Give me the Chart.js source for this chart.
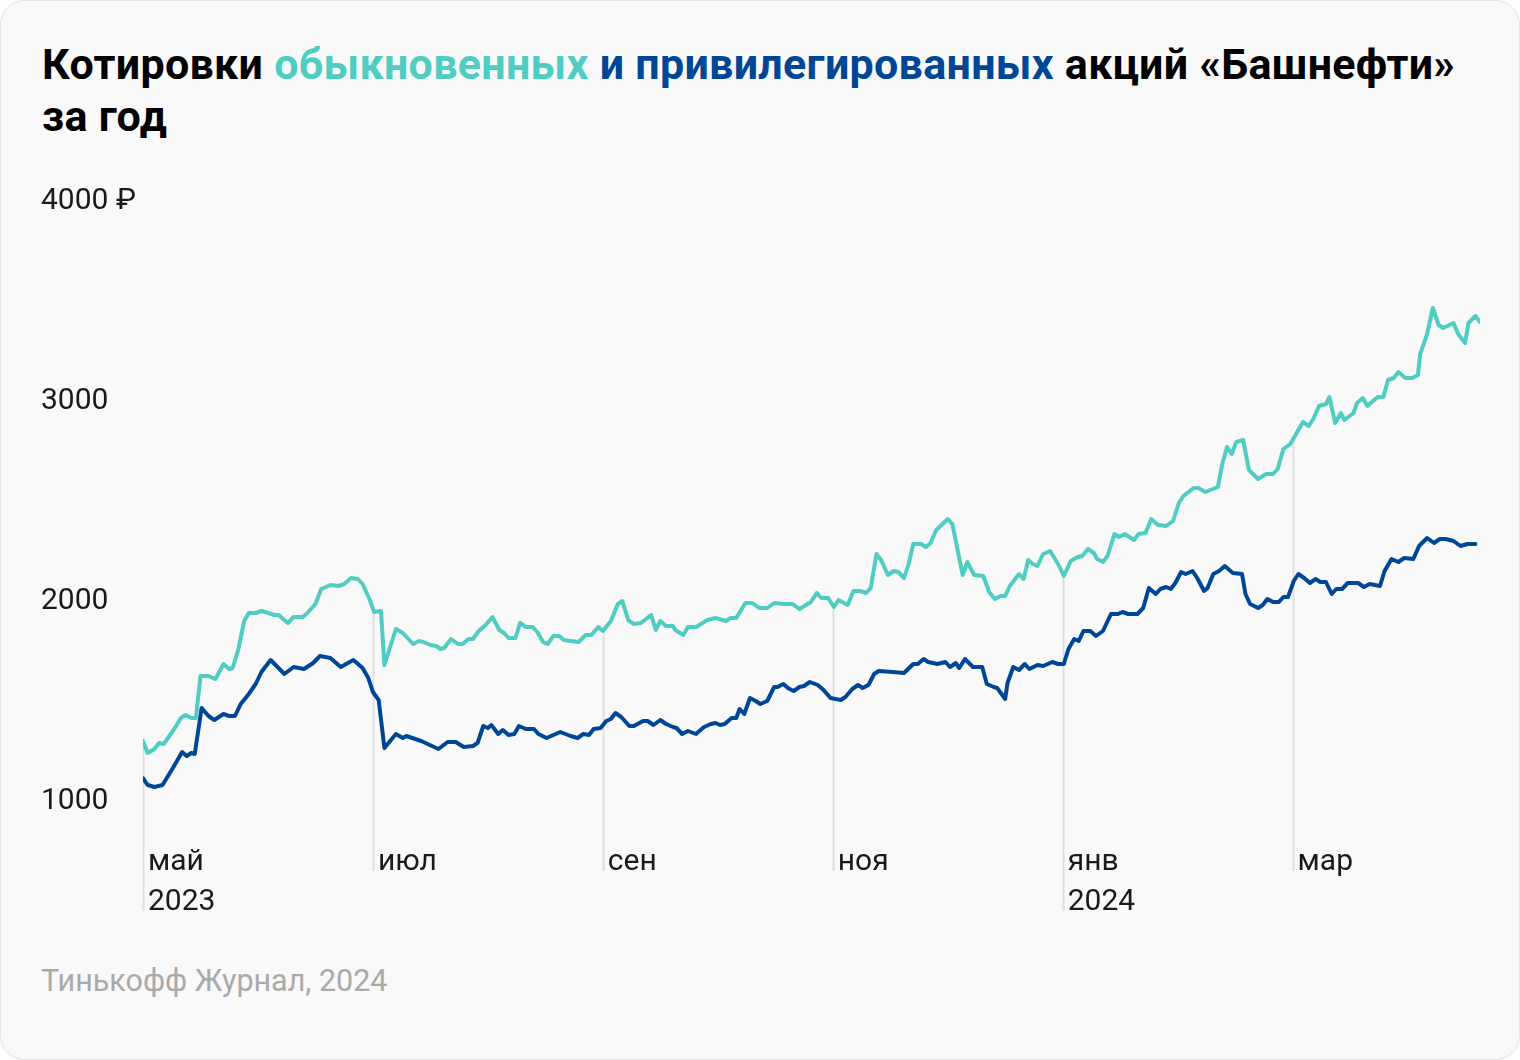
<!DOCTYPE html>
<html lang="ru">
<head>
<meta charset="utf-8">
<script src="https://cdn.jsdelivr.net/npm/chart.js@4.4.1/dist/chart.umd.min.js"></script>
<style>
  html, body { margin: 0; padding: 0; background: #ffffff; }
  .card {
    position: absolute; left: 0; top: 0;
    width: 1518px; height: 1058px;
    background: #f9f9f9;
    border: 1px solid #e4e4e4;
    border-radius: 24px;
    overflow: hidden;
    font-family: Roboto, "Noto Sans", sans-serif;
  }
  .title {
    position: absolute; left: 41px; top: 37px; width: 1470px;
    font-weight: 700; font-size: 43px; line-height: 52px;
    color: #000; letter-spacing: 0.3px; white-space: nowrap;
  }
  .title .common { color: #50cdc3; }
  .title .pref { color: #004696; }
  .chart-wrap { position: absolute; left: 0; top: 170px; width: 1520px; height: 760px; }
  .footer {
    position: absolute; left: 40px; top: 960px;
    font-size: 30.5px; line-height: 40px; color: #aaaaaa;
  }
</style>
</head>
<body>
<div class="card">
  <div class="title">Котировки <span class="common">обыкновенных</span> <span class="pref">и привилегированных</span> акций «Башнефти»<br>за год</div>
  <div class="chart-wrap"><canvas id="chart" width="1520" height="760"></canvas></div>
  <div class="footer">Тинькофф Журнал, 2024</div>
</div>
<script>
// Время в месяцах от 1 мая 2023 (0 = май, 2 = июль, ...)
const commonT = [
  0.00, 0.04, 0.10, 0.14, 0.18, 0.26, 0.33, 0.37, 0.42, 0.46, 0.50, 0.57, 0.63, 0.70, 0.75, 0.78,
  0.83, 0.88, 0.92, 0.98, 1.03, 1.09, 1.14, 1.18, 1.26, 1.31, 1.39, 1.43, 1.50, 1.55, 1.63, 1.70,
  1.75, 1.81, 1.87, 1.91, 1.97, 2.01, 2.07, 2.10, 2.20, 2.26, 2.35, 2.40, 2.44, 2.50, 2.55, 2.59,
  2.62, 2.68, 2.74, 2.78, 2.83, 2.87, 2.92, 2.98, 3.04, 3.10, 3.14, 3.18, 3.24, 3.28, 3.33, 3.39,
  3.43, 3.48, 3.52, 3.57, 3.62, 3.66, 3.72, 3.79, 3.85, 3.90, 3.96, 4.00, 4.07, 4.13, 4.17, 4.22,
  4.27, 4.33, 4.42, 4.46, 4.50, 4.55, 4.61, 4.63, 4.70, 4.74, 4.81, 4.91, 4.98, 5.07, 5.11, 5.16,
  5.24, 5.30, 5.36, 5.43, 5.49, 5.57, 5.65, 5.71, 5.81, 5.86, 5.90, 5.96, 6.01, 6.05, 6.13, 6.18,
  6.24, 6.29, 6.33, 6.38, 6.42, 6.48, 6.53, 6.57, 6.62, 6.66, 6.70, 6.77, 6.81, 6.85, 6.90, 7.00,
  7.04, 7.13, 7.17, 7.23, 7.31, 7.36, 7.41, 7.46, 7.50, 7.54, 7.62, 7.66, 7.70, 7.74, 7.78, 7.83,
  7.89, 7.96, 8.01, 8.07, 8.13, 8.17, 8.22, 8.27, 8.30, 8.35, 8.39, 8.45, 8.49, 8.54, 8.62, 8.66,
  8.72, 8.77, 8.83, 8.90, 8.96, 9.01, 9.05, 9.14, 9.18, 9.24, 9.35, 9.39, 9.43, 9.47, 9.51, 9.57,
  9.62, 9.70, 9.77, 9.83, 9.87, 9.92, 9.98, 10.03, 10.09, 10.14, 10.18, 10.23, 10.29, 10.32, 10.37, 10.42,
  10.45, 10.53, 10.56, 10.61, 10.65, 10.74, 10.79, 10.83, 10.88, 10.92, 10.98, 11.04, 11.09, 11.11, 11.17, 11.22,
  11.27, 11.31, 11.40, 11.44, 11.50, 11.53, 11.59, 11.63
];
const commonPrice = [
  1300, 1240, 1260, 1290, 1285, 1350, 1415, 1430, 1415, 1415, 1625, 1625, 1610, 1685, 1660, 1665,
  1760, 1900, 1940, 1940, 1950, 1940, 1930, 1930, 1890, 1920, 1920, 1940, 1985, 2060, 2080, 2075,
  2085, 2115, 2110, 2085, 2010, 1945, 1950, 1680, 1860, 1840, 1785, 1800, 1795, 1780, 1775, 1760,
  1765, 1810, 1785, 1785, 1810, 1810, 1850, 1880, 1920, 1855, 1840, 1815, 1815, 1890, 1870, 1870,
  1845, 1795, 1785, 1825, 1825, 1805, 1800, 1795, 1830, 1830, 1870, 1850, 1900, 1985, 2000, 1905,
  1885, 1890, 1930, 1855, 1900, 1875, 1875, 1855, 1830, 1870, 1870, 1905, 1915, 1900, 1915, 1915,
  1990, 1990, 1965, 1965, 1990, 1985, 1985, 1960, 1995, 2040, 2015, 2015, 1970, 2005, 1980, 2050,
  2050, 2040, 2065, 2235, 2205, 2130, 2150, 2145, 2115, 2185, 2285, 2285, 2270, 2290, 2355, 2410,
  2385, 2130, 2195, 2130, 2125, 2045, 2010, 2025, 2025, 2075, 2135, 2110, 2205, 2185, 2175, 2235,
  2250, 2185, 2125, 2200, 2220, 2225, 2260, 2240, 2210, 2195, 2225, 2335, 2320, 2335, 2305, 2335,
  2340, 2410, 2380, 2375, 2400, 2490, 2525, 2565, 2565, 2545, 2570, 2690, 2770, 2735, 2795, 2805,
  2655, 2610, 2635, 2635, 2660, 2760, 2785, 2835, 2895, 2875, 2910, 2975, 2985, 3020, 2890, 2940,
  2905, 2940, 2990, 3015, 2975, 3020, 3020, 3105, 3115, 3145, 3115, 3115, 3130, 3235, 3335, 3465,
  3380, 3365, 3390, 3335, 3290, 3390, 3425, 3395
];

const prefT = [
  0.00, 0.04, 0.10, 0.17, 0.26, 0.34, 0.38, 0.42, 0.45, 0.51, 0.57, 0.62, 0.70, 0.75, 0.80, 0.85,
  0.92, 0.98, 1.03, 1.11, 1.17, 1.23, 1.31, 1.40, 1.48, 1.54, 1.63, 1.72, 1.83, 1.91, 1.96, 2.00,
  2.05, 2.10, 2.20, 2.26, 2.29, 2.42, 2.57, 2.65, 2.72, 2.79, 2.87, 2.91, 2.96, 3.00, 3.03, 3.09,
  3.13, 3.18, 3.23, 3.27, 3.33, 3.40, 3.44, 3.51, 3.57, 3.63, 3.72, 3.78, 3.83, 3.88, 3.92, 3.98,
  4.03, 4.07, 4.11, 4.16, 4.23, 4.27, 4.35, 4.39, 4.44, 4.50, 4.55, 4.61, 4.64, 4.69, 4.74, 4.81,
  4.88, 4.94, 4.98, 5.02, 5.06, 5.12, 5.16, 5.19, 5.23, 5.28, 5.33, 5.37, 5.43, 5.49, 5.52, 5.57,
  5.61, 5.66, 5.71, 5.75, 5.80, 5.87, 5.92, 5.98, 6.07, 6.11, 6.17, 6.22, 6.26, 6.31, 6.36, 6.40,
  6.52, 6.62, 6.70, 6.74, 6.79, 6.83, 6.91, 6.98, 7.02, 7.07, 7.10, 7.15, 7.22, 7.30, 7.34, 7.40,
  7.43, 7.50, 7.52, 7.57, 7.62, 7.67, 7.71, 7.78, 7.83, 7.91, 7.96, 8.01, 8.05, 8.10, 8.14, 8.18,
  8.24, 8.29, 8.35, 8.42, 8.48, 8.52, 8.57, 8.65, 8.70, 8.75, 8.81, 8.85, 8.90, 8.94, 8.98, 9.03,
  9.07, 9.13, 9.17, 9.23, 9.26, 9.31, 9.36, 9.41, 9.48, 9.56, 9.59, 9.63, 9.70, 9.74, 9.78, 9.83,
  9.88, 9.92, 9.96, 10.01, 10.05, 10.10, 10.15, 10.20, 10.24, 10.29, 10.34, 10.38, 10.43, 10.48, 10.57, 10.62,
  10.67, 10.76, 10.80, 10.86, 10.92, 10.97, 11.05, 11.10, 11.17, 11.23, 11.28, 11.33, 11.40, 11.46, 11.52, 11.59
];
const prefPrice = [
  1115, 1080, 1070, 1080, 1165, 1245, 1225, 1240, 1235, 1465, 1425, 1405, 1435, 1425, 1425, 1485,
  1535, 1585, 1645, 1705, 1670, 1635, 1670, 1660, 1690, 1725, 1715, 1670, 1705, 1665, 1615, 1545,
  1505, 1265, 1335, 1315, 1325, 1300, 1260, 1295, 1295, 1270, 1275, 1290, 1375, 1365, 1380, 1335,
  1355, 1330, 1335, 1375, 1360, 1360, 1335, 1315, 1330, 1345, 1325, 1315, 1335, 1330, 1360, 1365,
  1400, 1410, 1440, 1420, 1375, 1375, 1400, 1400, 1380, 1405, 1385, 1370, 1365, 1335, 1350, 1335,
  1370, 1385, 1390, 1380, 1385, 1415, 1415, 1460, 1435, 1515, 1500, 1485, 1500, 1570, 1570, 1585,
  1565, 1550, 1570, 1575, 1595, 1580, 1555, 1515, 1505, 1520, 1560, 1580, 1565, 1580, 1635, 1650,
  1645, 1640, 1685, 1685, 1710, 1695, 1685, 1695, 1670, 1690, 1665, 1710, 1670, 1670, 1585, 1570,
  1565, 1510, 1590, 1670, 1655, 1685, 1660, 1680, 1675, 1695, 1685, 1685, 1760, 1810, 1800, 1850,
  1850, 1825, 1850, 1935, 1935, 1945, 1935, 1935, 1965, 2065, 2035, 2060, 2070, 2060, 2090, 2145,
  2135, 2150, 2115, 2050, 2065, 2135, 2150, 2175, 2140, 2135, 2035, 1985, 1965, 1980, 2010, 1995,
  1995, 2020, 2020, 2100, 2135, 2115, 2090, 2110, 2095, 2095, 2035, 2060, 2060, 2090, 2090, 2070,
  2085, 2075, 2150, 2210, 2195, 2215, 2210, 2275, 2315, 2290, 2310, 2310, 2300, 2275, 2285, 2285
];

const monthTicks  = [0, 2, 4, 6, 8, 10];
const monthLabels = [["май", "2023"], "июл", "сен", "ноя", ["янв", "2024"], "мар"];
const priceTicks  = [1000, 2000, 3000, 4000];

const COMMON_COLOR = "#50cdc3";
const PREF_COLOR   = "#004696";

// Вертикальные линии месяцев: от линии обыкновенных акций вниз до подписи
const monthLinesPlugin = {
  id: "monthLines",
  beforeDatasetsDraw(chart) {
    const { ctx, chartArea, scales } = chart;
    const pts = chart.getDatasetMeta(0).data;
    ctx.save();
    ctx.strokeStyle = "#dedede";
    ctx.lineWidth = 2;
    monthTicks.forEach((m, i) => {
      const x = Math.round(scales.x.getPixelForValue(m)) + 0.5;
      let top = pts[0].y;
      for (let k = 1; k < pts.length; k++) {
        if (pts[k].x >= x) {
          const a = pts[k - 1], b = pts[k];
          const f = (x - a.x) / ((b.x - a.x) || 1);
          top = a.y + (b.y - a.y) * Math.max(0, Math.min(1, f));
          break;
        }
      }
      const lines = Array.isArray(monthLabels[i]) ? monthLabels[i].length : 1;
      const bottom = chartArea.bottom + 30 + lines * 40;
      ctx.beginPath();
      ctx.moveTo(x, top + 2);
      ctx.lineTo(x, bottom);
      ctx.stroke();
    });
    ctx.restore();
  }
};

const lineStyle = {
  borderWidth: 4,
  pointRadius: 0,
  pointHoverRadius: 0,
  tension: 0,
  fill: false,
  borderJoinStyle: "round",
  borderCapStyle: "round",
};

new Chart(document.getElementById("chart").getContext("2d"), {
  type: "line",
  data: {
    datasets: [
      Object.assign({
        label: "обыкновенные",
        data: commonT.map((t, i) => ({ x: t, y: commonPrice[i] })),
        borderColor: COMMON_COLOR,
      }, lineStyle),
      Object.assign({
        label: "привилегированные",
        data: prefT.map((t, i) => ({ x: t, y: prefPrice[i] })),
        borderColor: PREF_COLOR,
      }, lineStyle),
    ]
  },
  options: {
    responsive: false,
    animation: false,
    events: [],
    layout: { padding: { top: 30, left: 40, right: 41, bottom: 0 } },
    plugins: { legend: { display: false }, tooltip: { enabled: false } },
    scales: {
      x: {
        type: "linear",
        min: 0,
        max: commonT[commonT.length - 1],
        grid: { display: false },
        border: { display: false },
        afterFit: s => { s.height = 130; },
        afterBuildTicks: s => { s.ticks = monthTicks.map(v => ({ value: v })); },
        ticks: {
          align: "start",
          labelOffset: 5,
          padding: 33,
          maxRotation: 0,
          autoSkip: false,
          color: "#1a1a1a",
          font: { family: "Roboto", size: 30, lineHeight: 40 / 30 },
          callback: (v) => monthLabels[monthTicks.indexOf(v)],
        }
      },
      y: {
        min: 1000,
        max: 4000,
        grid: { display: false },
        border: { display: false },
        afterFit: s => { s.width = 102; },
        afterBuildTicks: s => { s.ticks = priceTicks.map(v => ({ value: v })); },
        ticks: {
          crossAlign: "far",
          padding: 0,
          color: "#1a1a1a",
          font: { family: "Roboto", size: 30 },
          callback: v => v === 4000 ? "4000 ₽" : String(v),
        }
      }
    }
  },
  plugins: [monthLinesPlugin]
});
</script>
</body>
</html>
